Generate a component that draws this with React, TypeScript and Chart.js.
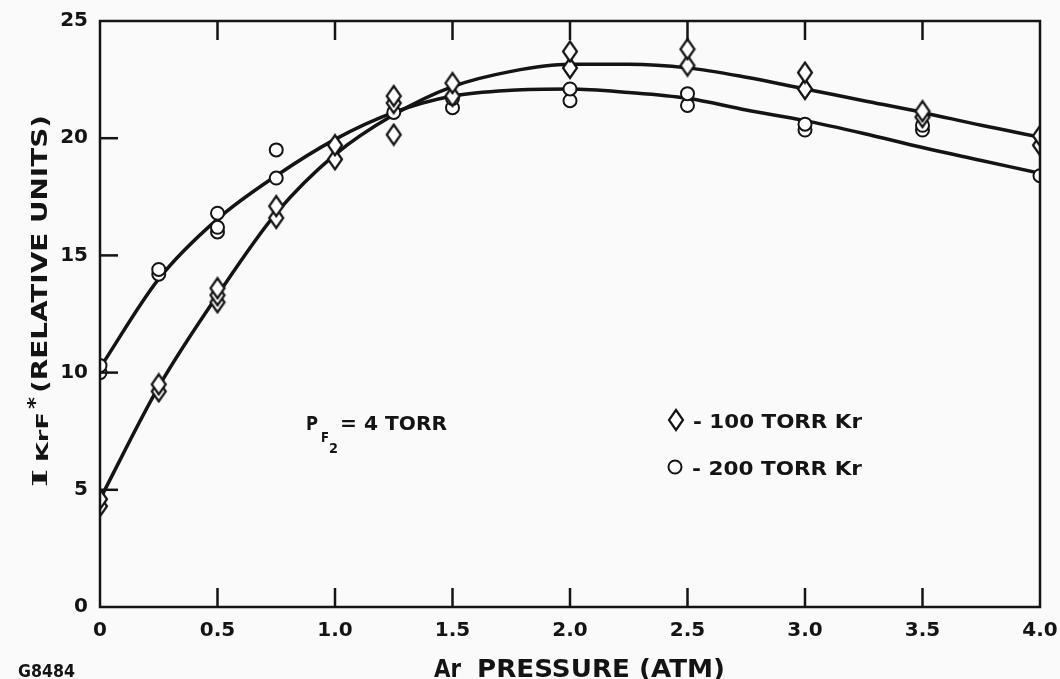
import React, { useEffect, useRef } from 'react';
import { Chart, registerables } from 'chart.js';

Chart.register(...registerables);

// ---- data ----
const X_MIN = 0;
const X_MAX = 4;
const X_STEP = 0.5;
const Y_MIN = 0;
const Y_MAX = 25;
const Y_STEP = 5;

// smooth fitted curves (read at 0.25 atm steps)
const FIT_X = [0, 0.25, 0.5, 0.75, 1.0, 1.25, 1.5, 1.75, 2.0, 2.25, 2.5, 2.75, 3.0, 3.25, 3.5, 3.75, 4.0];
const FIT_100 = [4.6, 9.4, 13.3, 16.8, 19.3, 21.0, 22.2, 22.85, 23.15, 23.15, 23.0, 22.6, 22.1, 21.6, 21.1, 20.55, 20.05];
const FIT_200 = [10.2, 14.0, 16.55, 18.4, 19.95, 21.1, 21.8, 22.05, 22.1, 21.95, 21.7, 21.2, 20.75, 20.2, 19.6, 19.05, 18.5];

// measured points, 100 torr Kr (diamonds)
const PTS_100_X = [0, 0, 0.25, 0.25, 0.5, 0.5, 0.5, 0.75, 0.75, 1.0, 1.0, 1.25, 1.25, 1.25, 1.5, 1.5, 2.0, 2.0, 2.5, 2.5, 3.0, 3.0, 3.5, 3.5, 4.0, 4.0];
const PTS_100_Y = [4.3, 4.6, 9.2, 9.5, 13.0, 13.3, 13.6, 16.6, 17.1, 19.1, 19.7, 20.15, 21.5, 21.8, 21.8, 22.35, 23.0, 23.7, 23.1, 23.8, 22.1, 22.8, 20.9, 21.15, 19.7, 20.1];

// measured points, 200 torr Kr (circles)
const PTS_200_X = [0, 0, 0.25, 0.25, 0.5, 0.5, 0.5, 0.75, 0.75, 1.25, 1.5, 1.5, 2.0, 2.0, 2.5, 2.5, 3.0, 3.0, 3.5, 3.5, 4.0];
const PTS_200_Y = [10.0, 10.3, 14.2, 14.4, 16.0, 16.2, 16.8, 18.3, 19.5, 21.1, 21.3, 21.7, 21.6, 22.1, 21.4, 21.9, 20.35, 20.6, 20.35, 20.55, 18.4];

const SERIES_LABELS = ['- 100 TORR Kr', '- 200 TORR Kr'];
const X_TITLE = ['Ar', 'PRESSURE (ATM)'];
const Y_TITLE = ['I', 'KrF', '*', '(RELATIVE UNITS)'];
const NOTE = ['P', 'F', '2', '= 4 TORR'];
const FIG_ID = 'G8484';

const INK = '#141414';
const SANS = "'DejaVu Sans', sans-serif";
const SERIF = "'DejaVu Serif', serif";

const zip = (xs: number[], ys: number[]) => xs.map((x, i) => ({ x, y: ys[i] }));

function makeDiamond(): HTMLCanvasElement {
  const c = document.createElement('canvas');
  c.width = 18;
  c.height = 24;
  const g = c.getContext('2d')!;
  g.beginPath();
  g.moveTo(9, 2);
  g.lineTo(16, 12);
  g.lineTo(9, 22);
  g.lineTo(2, 12);
  g.closePath();
  g.fillStyle = '#ffffff';
  g.fill();
  g.lineWidth = 2.2;
  g.strokeStyle = INK;
  g.stroke();
  return c;
}

function fitText(ctx: CanvasRenderingContext2D, text: string, x: number, y: number, width: number) {
  const w = ctx.measureText(text).width;
  ctx.save();
  ctx.translate(x, y);
  ctx.scale(width / w, 1);
  ctx.fillText(text, 0, 0);
  ctx.restore();
}

export default function App() {
  const ref = useRef<HTMLCanvasElement | null>(null);

  useEffect(() => {
    document.body.style.margin = '0';
    document.body.style.background = '#fafafa';
    const canvas = ref.current;
    if (!canvas) return;
    const diamond = makeDiamond();

    const framePlugin = {
      id: 'frame',
      afterDatasetsDraw(chart: any) {
        const ctx: CanvasRenderingContext2D = chart.ctx;
        const { left, right, top, bottom } = chart.chartArea;
        const xs = chart.scales.x;
        const ys = chart.scales.y;
        ctx.save();
        ctx.strokeStyle = INK;
        ctx.lineWidth = 2.5;
        ctx.lineCap = 'square';
        ctx.strokeRect(left, top, right - left, bottom - top);
        ctx.lineCap = 'butt';
        xs.ticks.forEach((t: any) => {
          if (t.value <= X_MIN || t.value >= X_MAX) return;
          const px = xs.getPixelForValue(t.value);
          ctx.beginPath();
          ctx.moveTo(px, bottom);
          ctx.lineTo(px, bottom - 19);
          ctx.moveTo(px, top);
          ctx.lineTo(px, top + 19);
          ctx.stroke();
        });
        ys.ticks.forEach((t: any) => {
          if (t.value <= Y_MIN || t.value >= Y_MAX) return;
          const py = ys.getPixelForValue(t.value);
          ctx.beginPath();
          ctx.moveTo(left, py);
          ctx.lineTo(left + 18, py);
          ctx.stroke();
        });
        ctx.restore();
      },
      afterDraw(chart: any) {
        const ctx: CanvasRenderingContext2D = chart.ctx;
        ctx.save();
        ctx.fillStyle = INK;
        ctx.textBaseline = 'alphabetic';
        ctx.textAlign = 'left';

        // x title
        ctx.font = `bold 25px ${SANS}`;
        fitText(ctx, X_TITLE[0], 434, 677, 27);
        fitText(ctx, X_TITLE[1], 477, 677, 248);

        // figure id
        ctx.font = `bold 17px ${SANS}`;
        fitText(ctx, FIG_ID, 18, 677, 57);

        // y title (rotated)
        ctx.save();
        ctx.translate(47, 487);
        ctx.rotate(-Math.PI / 2);
        ctx.font = `bold 21px ${SERIF}`;
        fitText(ctx, Y_TITLE[0], 0, 0, 18);
        ctx.font = `bold 15px ${SANS}`;
        fitText(ctx, Y_TITLE[1], 25, 1, 50);
        ctx.font = `bold 20px ${SANS}`;
        fitText(ctx, Y_TITLE[2], 78, -6, 12);
        ctx.font = `bold 21px ${SANS}`;
        fitText(ctx, Y_TITLE[3], 94, 0, 278);
        ctx.restore();

        // P_F2 = 4 TORR
        ctx.font = `bold 20px ${SANS}`;
        fitText(ctx, NOTE[0], 306, 430, 12);
        ctx.font = `bold 14px ${SANS}`;
        fitText(ctx, NOTE[1], 321, 442, 8);
        fitText(ctx, NOTE[2], 329, 453, 9);
        ctx.font = `bold 20px ${SANS}`;
        fitText(ctx, NOTE[3], 340, 430, 107);

        // legend
        const ds = chart.data.datasets;
        ctx.drawImage(diamond, 676 - diamond.width / 2, 420 - diamond.height / 2);
        ctx.beginPath();
        ctx.arc(675, 467, 6.5, 0, Math.PI * 2);
        ctx.fillStyle = '#ffffff';
        ctx.fill();
        ctx.lineWidth = 2;
        ctx.strokeStyle = INK;
        ctx.stroke();
        ctx.fillStyle = INK;
        ctx.font = `bold 20px ${SANS}`;
        fitText(ctx, ds[2].label, 693, 428, 169);
        fitText(ctx, ds[3].label, 692, 475, 170);
        ctx.restore();
      },
    };

    const tickFont = { family: SANS, size: 20, weight: 'bold' as const };

    const chart = new Chart(canvas, {
      type: 'scatter',
      data: {
        datasets: [
          {
            label: 'fit 100',
            data: zip(FIT_X, FIT_100),
            showLine: true,
            borderColor: INK,
            borderWidth: 3.5,
            pointRadius: 0,
            tension: 0.4,
            cubicInterpolationMode: 'monotone',
            order: 2,
          } as any,
          {
            label: 'fit 200',
            data: zip(FIT_X, FIT_200),
            showLine: true,
            borderColor: INK,
            borderWidth: 3.5,
            pointRadius: 0,
            tension: 0.4,
            cubicInterpolationMode: 'monotone',
            order: 2,
          } as any,
          {
            label: SERIES_LABELS[0],
            data: zip(PTS_100_X, PTS_100_Y),
            pointStyle: diamond,
            pointRadius: 10,
            order: 0,
          } as any,
          {
            label: SERIES_LABELS[1],
            data: zip(PTS_200_X, PTS_200_Y),
            pointStyle: 'circle',
            pointRadius: 6.5,
            borderWidth: 2,
            borderColor: INK,
            backgroundColor: '#ffffff',
            order: 1,
          } as any,
        ],
      },
      options: {
        responsive: false,
        animation: false,
        devicePixelRatio: 1,
        layout: { padding: { top: 21, right: 20, left: 0, bottom: 0 } },
        plugins: {
          legend: { display: false },
          tooltip: { enabled: false },
          title: { display: false },
        },
        scales: {
          x: {
            type: 'linear',
            min: X_MIN,
            max: X_MAX,
            grid: { display: false, drawTicks: false },
            border: { display: false },
            ticks: {
              stepSize: X_STEP,
              color: INK,
              font: tickFont,
              padding: 12,
              maxRotation: 0,
              autoSkip: false,
              callback: (v: any) => (Number(v) === 0 ? '0' : Number(v).toFixed(1)),
            },
            afterFit: (s: any) => {
              s.height = 72;
              s.paddingLeft = 0;
              s.paddingRight = 0;
            },
          },
          y: {
            type: 'linear',
            min: Y_MIN,
            max: Y_MAX,
            grid: { display: false, drawTicks: false },
            border: { display: false },
            ticks: {
              stepSize: Y_STEP,
              color: INK,
              font: tickFont,
              padding: 12,
              callback: (v: any) => String(v),
            },
            afterFit: (s: any) => {
              s.width = 100;
              s.paddingTop = 0;
              s.paddingBottom = 0;
            },
          },
        },
      },
      plugins: [framePlugin],
    });

    return () => chart.destroy();
  }, []);

  return (
    <canvas
      ref={ref}
      width={1060}
      height={679}
      style={{ display: 'block', width: 1060, height: 679 }}
    />
  );
}
